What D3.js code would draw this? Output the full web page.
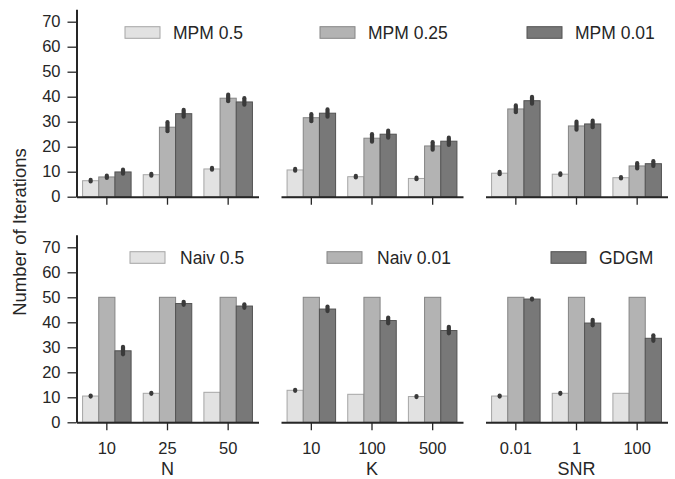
<!DOCTYPE html>
<html><head><meta charset="utf-8">
<script src="https://cdn.jsdelivr.net/npm/d3@7"></script>
<style>
html,body{margin:0;padding:0;background:#fff;}
svg text{font-family:"Liberation Sans",Arial,sans-serif;fill:#262626;}
</style></head>
<body><svg id="chart" width="675" height="479"></svg>
<script>
// ---- data ----
const panelVars = ["N", "K", "SNR"];
const catN = ["10", "25", "50"];
const catK = ["10", "100", "500"];
const catSNR = ["0.01", "1", "100"];
const yTicks = [0, 10, 20, 30, 40, 50, 60, 70];

const seriesTop = ["MPM 0.5", "MPM 0.25", "MPM 0.01"];
const seriesBottom = ["Naiv 0.5", "Naiv 0.01", "GDGM"];

// values per panel [N, K, SNR], each with 3 categories
const mpm05  = [[6.4, 8.8, 11.1], [10.7, 8.0, 7.3], [9.4, 9.0, 7.6]];
const mpm025 = [[7.9, 27.8, 39.4], [31.6, 23.4, 20.3], [35.1, 28.3, 12.3]];
const mpm001 = [[9.9, 33.2, 37.9], [33.4, 25.0, 22.2], [38.4, 29.1, 13.2]];
const naiv05  = [[10.5, 11.6, 12.0], [12.8, 11.2, 10.3], [10.5, 11.6, 11.6]];
const naiv001 = [[50, 50, 50], [50, 50, 50], [50, 50, 50]];
const gdgm    = [[28.6, 47.5, 46.5], [45.3, 40.7, 36.7], [49.3, 39.7, 33.6]];

// confidence intervals [low, high] (null = none drawn)
const mpm05Ci  = [[[6.1,6.7],[8.4,9.1],[10.8,11.5]], [[10.4,11.1],[7.7,8.3],[7.0,7.6]], [[9.0,9.9],[8.7,9.3],[7.3,7.8]]];
const mpm025Ci = [[[7.5,8.4],[26.2,29.8],[38.2,40.8]], [[30.2,33.0],[22.0,25.0],[18.8,21.8]], [[33.8,36.5],[26.8,30.0],[11.3,13.4]]];
const mpm001Ci = [[[9.2,10.8],[32.0,34.7],[36.8,39.4]], [[32.0,34.9],[23.6,26.4],[20.7,23.6]], [[37.2,39.9],[27.8,30.4],[12.3,14.2]]];
const naiv05Ci  = [[[10.3,10.7],[11.4,11.8],null], [[12.6,13.0],null,[10.1,10.5]], [[10.3,10.7],[11.4,11.8],null]];
const naiv001Ci = [[null,null,null], [null,null,null], [null,null,null]];
const gdgmCi    = [[[27.2,30.2],[47.0,48.2],[45.8,47.2]], [[44.5,46.3],[39.6,41.9],[35.6,38.2]], [[49.1,49.5],[38.8,41.0],[32.6,34.8]]];

const categories = [catN, catK, catSNR];

// ---- layout / style ----
const fills = ["#e2e2e2", "#b3b3b3", "#787878"];
const edges = ["#a6a6a6", "#858585", "#525252"];
const axisColor = "#262626";
const errColor = "#3a3a3a";

const panelW = 182, gap = 22.5, left0 = 76.5;
const rows = [
  {top: 9.2, bottom: 196.7, series: seriesTop, vals: [mpm05, mpm025, mpm001], cis: [mpm05Ci, mpm025Ci, mpm001Ci],
   legend: [{px:125, tx:173}, {px:320, tx:368}, {px:527, tx:575}], legY: 32.5},
  {top: 234.8, bottom: 422.3, series: seriesBottom, vals: [naiv05, naiv001, gdgm], cis: [naiv05Ci, naiv001Ci, gdgmCi],
   legend: [{px:130, tx:180}, {px:327, tx:377}, {px:551, tx:599}], legY: 257.5}
];

const svg = d3.select("#chart");

rows.forEach((row, ri) => {
  const y = d3.scaleLinear().domain([0, 75]).range([row.bottom, row.top]);
  panelVars.forEach((pv, pi) => {
    const x0 = left0 + pi * (panelW + gap);
    const g = svg.append("g").attr("transform", `translate(${x0},0)`);
    const xb = d3.scaleBand().domain(categories[pi]).range([0, panelW]).paddingInner(0.2).paddingOuter(0.1);
    const xh = d3.scaleBand().domain(row.series).range([0, xb.bandwidth()]);

    categories[pi].forEach((c, ci) => {
      row.series.forEach((s, si) => {
        const v = row.vals[si][pi][ci];
        const bx = xb(c) + xh(s);
        g.append("rect")
          .attr("x", bx).attr("width", xh.bandwidth())
          .attr("y", y(v)).attr("height", y(0) - y(v))
          .attr("fill", fills[si]).attr("stroke", edges[si]).attr("stroke-width", 1);
      });
    });
    // error bars on top
    categories[pi].forEach((c, ci) => {
      row.series.forEach((s, si) => {
        const ciV = row.cis[si][pi][ci];
        if (!ciV) return;
        const cx = xb(c) + xh(s) + xh.bandwidth() / 2;
        g.append("line")
          .attr("x1", cx).attr("x2", cx)
          .attr("y1", y(ciV[0])).attr("y2", y(ciV[1]))
          .attr("stroke", errColor).attr("stroke-width", 4.2).attr("stroke-linecap", "round");
      });
    });

    // x axis
    const xAxis = d3.axisBottom(xb).tickSize(8).tickPadding(11).tickSizeOuter(0);
    const ax = g.append("g").attr("transform", `translate(0,${row.bottom})`).call(xAxis);
    ax.select(".domain").attr("stroke", axisColor).attr("stroke-width", 2);
    ax.selectAll(".tick line").attr("stroke", axisColor).attr("stroke-width", 1.3);
    if (ri === 1) {
      ax.selectAll(".tick text").attr("font-size", 16.5).style("fill", axisColor).attr("dy", "0.75em");
      g.append("text").attr("x", panelW / 2).attr("y", 475)
        .attr("text-anchor", "middle").attr("font-size", 18).text(pv);
    } else {
      ax.selectAll(".tick text").remove();
    }

    // y axis on first panel only
    if (pi === 0) {
      const yAxis = d3.axisLeft(y).tickValues(yTicks).tickSize(9).tickPadding(7).tickSizeOuter(0);
      const ay = g.append("g").call(yAxis);
      ay.select(".domain").attr("stroke", axisColor).attr("stroke-width", 2);
      ay.selectAll(".tick line").attr("stroke", axisColor).attr("stroke-width", 1.3);
      ay.selectAll(".tick text").attr("font-size", 16.5).style("fill", axisColor);
    }
  });

  // legend
  row.series.forEach((s, si) => {
    const L = row.legend[si];
    svg.append("rect").attr("x", L.px).attr("y", row.legY - 5.8).attr("width", 35).attr("height", 11.6)
      .attr("fill", fills[si]).attr("stroke", edges[si]).attr("stroke-width", 1);
    svg.append("text").attr("x", L.tx).attr("y", row.legY).attr("dy", "0.36em")
      .attr("font-size", 17.5).text(s);
  });
});

// shared y label
svg.append("text")
  .attr("transform", "translate(26,232) rotate(-90)")
  .attr("text-anchor", "middle").attr("font-size", 18.5)
  .text("Number of Iterations");
</script></body></html>
